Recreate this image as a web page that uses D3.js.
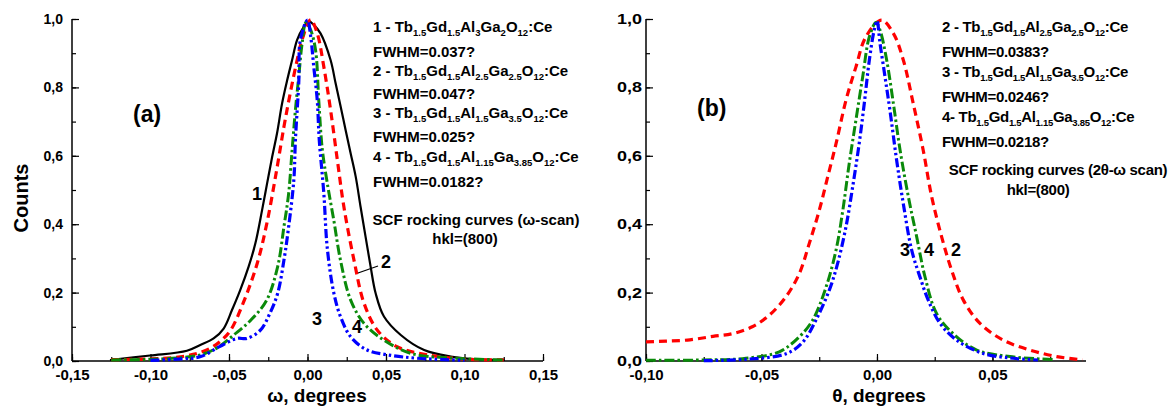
<!DOCTYPE html>
<html><head><meta charset="utf-8">
<script src="https://cdn.jsdelivr.net/npm/d3@7"></script>
<style>
html,body{margin:0;padding:0;background:#fff;}
svg{display:block;font-family:"Liberation Sans",Arial,sans-serif;}
</style></head>
<body><svg id="c" width="1173" height="409"></svg>
<script>
// ---------- DATA ----------
// Panel (a): omega-scan, [omega (deg), normalized counts]
const a1 = [[-0.1258,0.003],[-0.1003,0.016],[-0.0768,0.03],[-0.0683,0.047],[-0.0598,0.066],[-0.0534,0.095],[-0.0481,0.149],[-0.0428,0.208],[-0.0375,0.276],[-0.0332,0.344],[-0.0289,0.442],[-0.0257,0.52],[-0.0225,0.597],[-0.0194,0.666],[-0.0162,0.753],[-0.013,0.82],[-0.0098,0.88],[-0.0066,0.939],[-0.0024,0.977],[0.0008,0.994],[0.0035,0.985],[0.0083,0.958],[0.0147,0.88],[0.0179,0.812],[0.0211,0.744],[0.0243,0.675],[0.0275,0.607],[0.0307,0.539],[0.0338,0.451],[0.037,0.363],[0.0402,0.276],[0.0434,0.198],[0.0487,0.13],[0.0594,0.076],[0.0743,0.032],[0.0913,0.013],[0.1084,0.005],[0.1254,0.003]];
const a2 = [[-0.125,0.004],[-0.1,0.006],[-0.085,0.01],[-0.072,0.02],[-0.062,0.037],[-0.055,0.06],[-0.049,0.09],[-0.041,0.169],[-0.032,0.286],[-0.026,0.40],[-0.020,0.549],[-0.015,0.685],[-0.011,0.783],[-0.0066,0.88],[-0.0034,0.94],[0.002,0.998],[0.0062,0.958],[0.0104,0.86],[0.0147,0.734],[0.019,0.588],[0.0232,0.45],[0.0296,0.295],[0.036,0.169],[0.0445,0.09],[0.057,0.042],[0.0764,0.018],[0.102,0.005],[0.125,0.003]];
const a3 = [[-0.125,0.003],[-0.1,0.005],[-0.08,0.01],[-0.068,0.018],[-0.057,0.04],[-0.047,0.076],[-0.036,0.12],[-0.026,0.178],[-0.019,0.276],[-0.015,0.393],[-0.012,0.49],[-0.0098,0.617],[-0.0077,0.734],[-0.0056,0.83],[-0.0034,0.93],[-0.001,0.99],[0.002,0.968],[0.0051,0.91],[0.0072,0.76],[0.0094,0.62],[0.0126,0.52],[0.0168,0.41],[0.021,0.295],[0.0275,0.178],[0.036,0.11],[0.0487,0.061],[0.066,0.022],[0.091,0.009],[0.125,0.003]];
const a4 = [[-0.1,0.002],[-0.08,0.006],[-0.068,0.013],[-0.056,0.042],[-0.045,0.066],[-0.0386,0.066],[-0.03,0.09],[-0.024,0.139],[-0.019,0.198],[-0.015,0.295],[-0.012,0.393],[-0.0087,0.53],[-0.0077,0.646],[-0.0056,0.81],[-0.0045,0.94],[0,0.997],[0.002,0.95],[0.004,0.86],[0.0062,0.763],[0.0075,0.646],[0.0104,0.49],[0.0126,0.33],[0.0168,0.198],[0.021,0.13],[0.0275,0.071],[0.038,0.032],[0.051,0.018],[0.07,0.008],[0.1,0.002]];
// Panel (b): 2theta-omega scan, [theta (deg), normalized counts]
const b2 = [[-0.1,0.056],[-0.0913,0.058],[-0.081,0.062],[-0.071,0.072],[-0.0625,0.08],[-0.054,0.1],[-0.0466,0.134],[-0.0394,0.188],[-0.0336,0.256],[-0.0293,0.344],[-0.025,0.44],[-0.0213,0.539],[-0.0177,0.636],[-0.0134,0.763],[-0.0091,0.86],[-0.0048,0.948],[0.002,0.997],[0.0071,0.958],[0.0114,0.88],[0.0157,0.753],[0.02,0.617],[0.0237,0.48],[0.028,0.363],[0.0323,0.266],[0.0374,0.178],[0.0446,0.11],[0.0547,0.061],[0.0662,0.032],[0.0778,0.013],[0.089,0.003]];
const b3 = [[-0.075,0.001],[-0.0567,0.005],[-0.039,0.022],[-0.032,0.056],[-0.0264,0.12],[-0.0206,0.208],[-0.017,0.286],[-0.0134,0.393],[-0.0105,0.51],[-0.0077,0.636],[-0.0055,0.753],[-0.0033,0.88],[-0.0012,0.968],[0,0.995],[0.0013,0.93],[0.0035,0.83],[0.0056,0.734],[0.0085,0.588],[0.0114,0.46],[0.015,0.325],[0.0186,0.246],[0.0222,0.178],[0.0273,0.11],[0.0345,0.061],[0.046,0.022],[0.059,0.008],[0.0697,0.003]];
const b4 = [[-0.1,0.002],[-0.075,0.003],[-0.0567,0.008],[-0.0423,0.027],[-0.0336,0.071],[-0.0278,0.12],[-0.022,0.217],[-0.0177,0.325],[-0.0148,0.44],[-0.012,0.578],[-0.0091,0.705],[-0.0062,0.83],[-0.0033,0.948],[-0.0004,0.99],[0.0013,0.968],[0.0042,0.88],[0.0071,0.753],[0.01,0.617],[0.0136,0.48],[0.0172,0.363],[0.0208,0.246],[0.0258,0.139],[0.033,0.08],[0.0432,0.032],[0.0576,0.013],[0.077,0.004]];

const aTicks = [-0.15,-0.10,-0.05,0.00,0.05,0.10,0.15];
const bTicks = [-0.10,-0.05,0.00,0.05];
const yTicks = [0,0.2,0.4,0.6,0.8,1.0];

// annotation texts: arrays of [text, isSubscript]
const aLegend = [
  [["1 - Tb",0],["1.5",1],["Gd",0],["1.5",1],["Al",0],["3",1],["Ga",0],["2",1],["O",0],["12",1],[":Ce",0]],
  [["FWHM=0.037?",0]],
  [["2 - Tb",0],["1.5",1],["Gd",0],["1.5",1],["Al",0],["2.5",1],["Ga",0],["2.5",1],["O",0],["12",1],[":Ce",0]],
  [["FWHM=0.047?",0]],
  [["3 - Tb",0],["1.5",1],["Gd",0],["1.5",1],["Al",0],["1.5",1],["Ga",0],["3.5",1],["O",0],["12",1],[":Ce",0]],
  [["FWHM=0.025?",0]],
  [["4 - Tb",0],["1.5",1],["Gd",0],["1.5",1],["Al",0],["1.15",1],["Ga",0],["3.85",1],["O",0],["12",1],[":Ce",0]],
  [["FWHM=0.0182?",0]]
];
const bLegend = [
  [["2 - Tb",0],["1.5",1],["Gd",0],["1.5",1],["Al",0],["2.5",1],["Ga",0],["2.5",1],["O",0],["12",1],[":Ce",0]],
  [["FWHM=0.0383?",0]],
  [["3 - Tb",0],["1.5",1],["Gd",0],["1.5",1],["Al",0],["1.5",1],["Ga",0],["3.5",1],["O",0],["12",1],[":Ce",0]],
  [["FWHM=0.0246?",0]],
  [["4- Tb",0],["1.5",1],["Gd",0],["1.5",1],["Al",0],["1.15",1],["Ga",0],["3.85",1],["O",0],["12",1],[":Ce",0]],
  [["FWHM=0.0218?",0]]
];

// ---------- DRAW ----------
const svg = d3.select("#c");
const fmt2 = v => d3.format(".2f")(v).replace(".", ",").replace("−","-");
const fmt1 = v => d3.format(".1f")(v).replace(".", ",").replace("−","-");

const styles = {
  black:{stroke:"#000", w:2.2, dash:null},
  red:{stroke:"#ff0000", w:3.2, dash:"8,5"},
  green:{stroke:"#0a8a0a", w:3, dash:"10,3,2.5,3"},
  blue:{stroke:"#0000ff", w:3.2, dash:"9,3,2.5,3,2.5,3"}
};

function panel(opt){
  const x = d3.scaleLinear().domain(opt.xd).range(opt.xr);
  const y = d3.scaleLinear().domain([0,1]).range([361,19]);
  const g = svg.append("g");
  // minor ticks
  const xMinor = d3.range(opt.xd[0], opt.xd[1]+1e-9, 0.025);
  g.append("g").attr("transform","translate(0,361)")
    .call(d3.axisBottom(x).tickValues(xMinor).tickSizeInner(-4).tickSizeOuter(0).tickFormat(""))
    .call(s=>s.select(".domain").remove());
  g.append("g").attr("transform",`translate(${opt.xr[0]},0)`)
    .call(d3.axisLeft(y).tickValues(d3.range(0,1.01,0.1)).tickSizeInner(-4).tickSizeOuter(0).tickFormat(""))
    .call(s=>s.select(".domain").remove());
  // major
  const xa = g.append("g").attr("transform","translate(0,361)")
    .call(d3.axisBottom(x).tickValues(opt.ticks).tickSizeInner(-7).tickSizeOuter(0).tickPadding(8).tickFormat(fmt2));
  xa.select(".domain").attr("d",`M${opt.xr[0]},0H${opt.xr[1]}`).attr("stroke-width",1.5);
  xa.selectAll("text").attr("font-size",15).attr("font-weight","bold").attr("fill","#000");
  const ya = g.append("g").attr("transform",`translate(${opt.xr[0]},0)`)
    .call(d3.axisLeft(y).tickValues(yTicks).tickSizeInner(-7).tickSizeOuter(0).tickPadding(opt.ypad).tickFormat(fmt1));
  ya.select(".domain").attr("d","M0,361V19").attr("stroke-width",1.5);
  ya.selectAll("text").attr("font-size",14).attr("font-weight","bold").attr("fill","#000");
  if (opt.ylabW) ya.selectAll("text").attr("textLength",opt.ylabW).attr("lengthAdjust","spacingAndGlyphs");
  g.selectAll(".tick line").attr("stroke-width",1.2);

  const line = d3.line().x(d=>x(d[0])).y(d=>y(d[1])).curve(d3.curveCatmullRom.alpha(0.5));
  opt.series.forEach(s=>{
    const st = styles[s.style];
    g.append("path").datum(s.data).attr("d",line).attr("fill","none")
      .attr("stroke",st.stroke).attr("stroke-width",st.w)
      .attr("stroke-dasharray",st.dash).attr("stroke-linejoin","round");
  });
  return {g,x,y};
}

const A = panel({xd:[-0.15,0.15], xr:[72,543], ticks:aTicks, ypad:9,
  series:[{data:a1,style:"black"},{data:a2,style:"red"},{data:a3,style:"green"},{data:a4,style:"blue"}]});
const B = panel({xd:[-0.1,0.0905], xr:[646,1086], ticks:bTicks, ypad:4, ylabW:25,
  series:[{data:b2,style:"red"},{data:b4,style:"green"},{data:b3,style:"blue"}]});

// axis titles
svg.append("text").attr("x",317).attr("y",402).attr("text-anchor","middle")
  .attr("font-size",19).attr("font-weight","bold").text("ω, degrees");
svg.append("text").attr("x",879).attr("y",402).attr("text-anchor","middle")
  .attr("font-size",19).attr("font-weight","bold").text("θ, degrees");
svg.append("text").attr("transform","translate(28,198) rotate(-90)").attr("text-anchor","middle")
  .attr("font-size",20).attr("font-weight","bold").text("Counts");

// panel labels
svg.append("text").attr("x",133).attr("y",122).attr("font-size",23).attr("font-weight","bold").text("(a)");
svg.append("text").attr("x",697).attr("y",116).attr("font-size",23).attr("font-weight","bold").text("(b)");

// legends
function legend(lines, x0, ys, ls){
  lines.forEach((parts,i)=>{
    const t = svg.append("text").attr("x",x0).attr("y",ys[i]).attr("font-size",15)
      .attr("font-weight","bold").attr("letter-spacing",ls);
    parts.forEach((p,j)=>{
      const prev = j>0 ? parts[j-1][1] : 0;
      const ts = t.append("tspan").text(p[0]);
      if (p[1]) ts.attr("font-size",9.5);
      ts.attr("dy", p[1] && !prev ? 4 : (!p[1] && prev ? -4 : 0));
    });
  });
}
legend(aLegend, 373, [32,57,76,99,118,142,162,187], 0);
legend(bLegend, 942, [32,57,77,102,122,147], -0.3);

svg.append("text").attr("x",476).attr("y",225).attr("text-anchor","middle").attr("font-size",15)
  .attr("font-weight","bold").text("SCF rocking curves (ω-scan)");
svg.append("text").attr("x",465).attr("y",244).attr("text-anchor","middle").attr("font-size",15)
  .attr("font-weight","bold").text("hkl=(800)");
svg.append("text").attr("x",1058).attr("y",175).attr("text-anchor","middle").attr("font-size",15)
  .attr("font-weight","bold").attr("letter-spacing",-0.3).text("SCF rocking curves (2θ-ω scan)");
svg.append("text").attr("x",1038).attr("y",195).attr("text-anchor","middle").attr("font-size",15)
  .attr("font-weight","bold").attr("letter-spacing",-0.3).text("hkl=(800)");

// curve numbers
const nums = [["1",252,200],["2",381,268],["3",312,325],["4",352,333],["3",900,256],["4",924,256],["2",951,256]];
svg.selectAll(".num").data(nums).enter().append("text").attr("class","num")
  .attr("x",d=>d[1]).attr("y",d=>d[2]).attr("font-size",18).attr("font-weight","bold").text(d=>d[0]);
// leader for curve 2 label
svg.append("line").attr("x1",358).attr("y1",273).attr("x2",378).attr("y2",266)
  .attr("stroke","#000").attr("stroke-width",1.3);
</script></body></html>
